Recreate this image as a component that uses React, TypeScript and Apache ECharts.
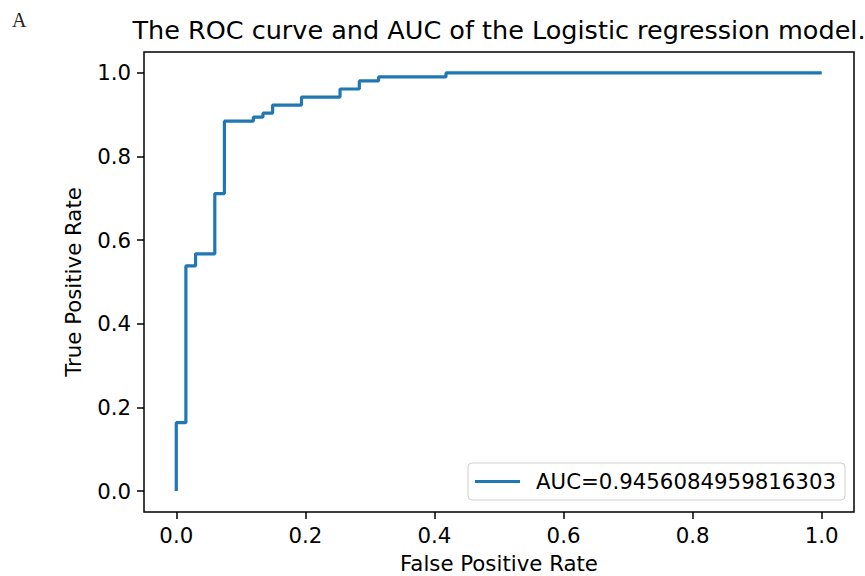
import React, { useEffect, useRef } from "react";
import * as echarts from "echarts";

const fpr = [0, 0, 0.0149, 0.0149, 0.0299, 0.0299, 0.0597, 0.0597, 0.0746, 0.0746, 0.1194, 0.1194, 0.1343, 0.1343, 0.1493, 0.1493, 0.194, 0.194, 0.2537, 0.2537, 0.2836, 0.2836, 0.3134, 0.3134, 0.4179, 0.4179, 1.0];
const tpr = [0, 0.1635, 0.1635, 0.5385, 0.5385, 0.5673, 0.5673, 0.7115, 0.7115, 0.8846, 0.8846, 0.8942, 0.8942, 0.9038, 0.9038, 0.9231, 0.9231, 0.9423, 0.9423, 0.9615, 0.9615, 0.9808, 0.9808, 0.9904, 0.9904, 1.0, 1.0];
const tickValues = [0, 0.2, 0.4, 0.6, 0.8, 1.0];
const seriesName = "AUC=0.9456084959816303";
const titleText = "The ROC curve and AUC of the Logistic regression model.";
const panelLabel = "A";
const xName = "False Positive Rate";
const yName = "True Positive Rate";

const FONT = "DejaVu Sans";
const FS = 21.3;

export default function App() {
  const ref = useRef<HTMLDivElement>(null);
  useEffect(() => {
    document.body.style.margin = "0";
    const chart = echarts.init(ref.current!, null, { renderer: "svg" });
    const axisCommon = {
      type: "value" as const,
      min: -0.05,
      max: 1.05,
      splitLine: { show: false },
      axisLine: { show: false, onZero: false },
      axisTick: {
        show: true,
        customValues: tickValues,
        length: 7,
        inside: false,
        lineStyle: { color: "#000", width: 1.5 },
      },
      axisLabel: {
        customValues: tickValues,
        formatter: (v: number) => v.toFixed(1),
        fontFamily: FONT,
        fontSize: FS,
        color: "#000",
        margin: 13,
      },
      nameLocation: "middle" as const,
      nameTextStyle: { fontFamily: FONT, fontSize: FS, color: "#000" },
    };
    chart.setOption({
      animation: false,
      grid: {
        left: 144,
        right: 11,
        top: 52,
        bottom: 64,
        show: true,
        borderColor: "#000",
        borderWidth: 1.5,
        backgroundColor: "transparent",
        containLabel: false,
        outerBoundsMode: "none",
      },
      xAxis: { ...axisCommon, name: xName, nameGap: 41 },
      yAxis: { ...axisCommon, name: yName, nameGap: 60, nameRotate: 90 },
      legend: {
        left: 468,
        top: 463,
        data: [seriesName],
        icon: "rect",
        itemWidth: 45,
        itemHeight: 3,
        padding: [8, 9, 8, 7],
        backgroundColor: "#fff",
        borderColor: "#d0d0d0",
        borderWidth: 1,
        borderRadius: 4,
        textStyle: { fontFamily: FONT, fontSize: FS, color: "#000", padding: [0, 0, 0, 11] },
      },
      graphic: [
        {
          type: "text",
          x: 499,
          y: 30,
          style: {
            text: titleText,
            fontFamily: FONT,
            fontSize: 25.5,
            fill: "#000",
            textAlign: "center",
            textVerticalAlign: "middle",
          },
        },
        {
          type: "text",
          x: 12,
          y: 10,
          style: {
            text: panelLabel,
            fontFamily: "Liberation Serif",
            fontSize: 20,
            fill: "#222",
          },
        },
      ],
      series: [
        {
          type: "line",
          name: seriesName,
          data: fpr.map((x, i) => [x, tpr[i]]),
          symbol: "none",
          lineStyle: { color: "#1f77b4", width: 3.2 },
          itemStyle: { color: "#1f77b4" },
        },
      ],
    });
    return () => chart.dispose();
  }, []);
  return <div ref={ref} style={{ width: 865, height: 576 }} />;
}
